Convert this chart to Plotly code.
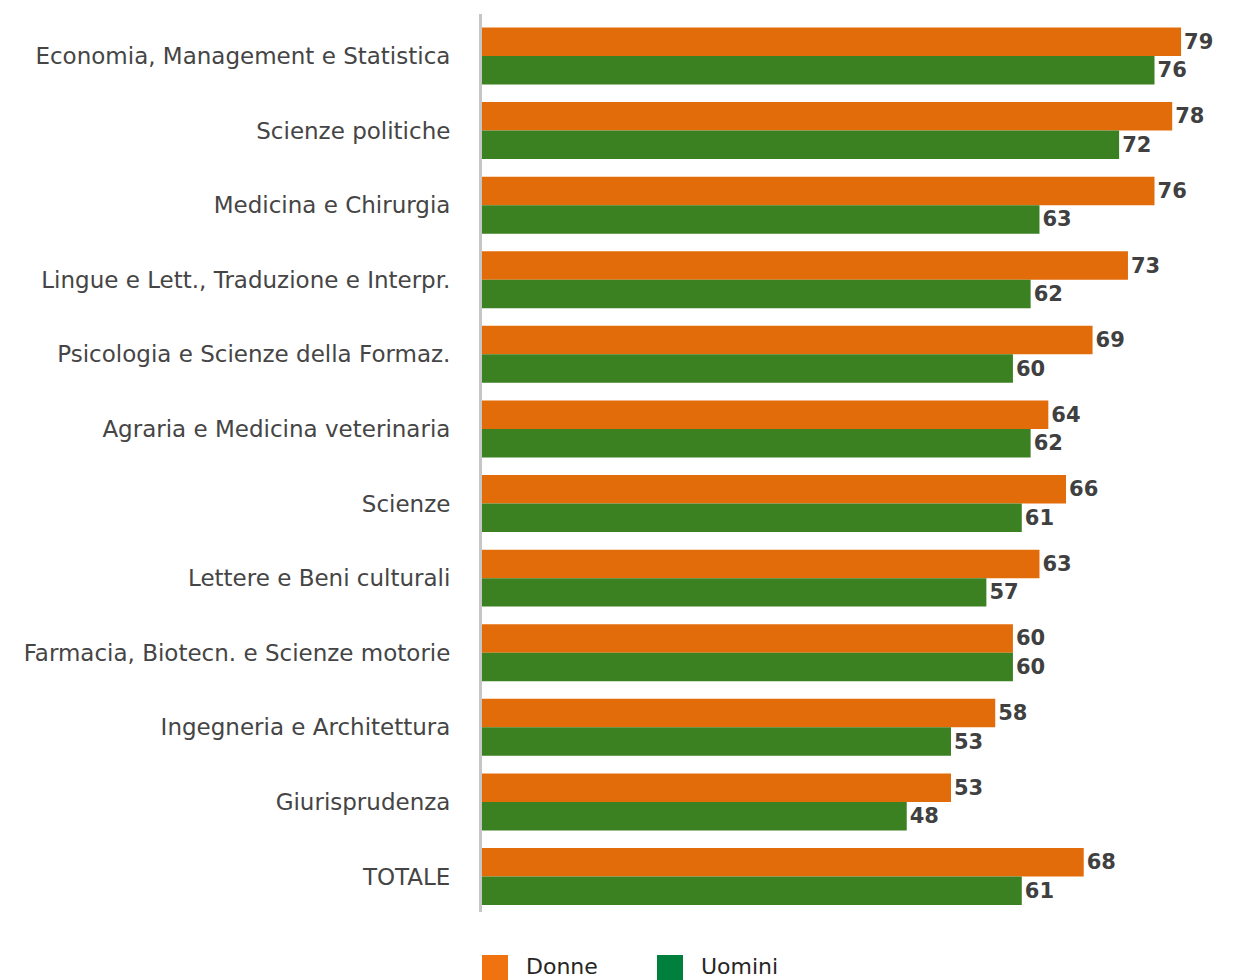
import plotly.graph_objects as go

categories = ["Economia, Management e Statistica", "Scienze politiche", "Medicina e Chirurgia",
              "Lingue e Lett., Traduzione e Interpr.", "Psicologia e Scienze della Formaz.",
              "Agraria e Medicina veterinaria", "Scienze", "Lettere e Beni culturali",
              "Farmacia, Biotecn. e Scienze motorie", "Ingegneria e Architettura",
              "Giurisprudenza", "TOTALE"]
donne = [79, 78, 76, 73, 69, 64, 66, 63, 60, 58, 53, 68]
uomini = [76, 72, 63, 62, 60, 62, 61, 57, 60, 53, 48, 61]
series_names = ["Donne", "Uomini"]
bar_colors = ["#E36C0A", "#3B8122"]
legend_colors = ["#F07310", "#00803C"]

FONT = "DejaVu Sans"
fig = go.Figure()
for name, vals, col in zip(series_names, [donne, uomini], bar_colors):
    fig.add_trace(go.Bar(
        y=categories, x=vals, name=name, orientation="h",
        marker=dict(color=col, line=dict(width=0)),
        text=[str(v) for v in vals], textposition="outside",
        textfont=dict(family=FONT, size=21, color="#404040", weight="bold"),
        cliponaxis=False, showlegend=False,
    ))

W, H = 1235, 972
L, T, B = 474, 6, 68
PW, PH = W - L, H - T - B

fig.update_layout(
    width=W, height=H,
    margin=dict(l=L, r=0, t=T, b=B, autoexpand=False),
    paper_bgcolor="white", plot_bgcolor="white",
    barmode="group", bargap=0.236, bargroupgap=0,
    font=dict(family=FONT, color="#404040"),
    xaxis=dict(range=[0, 86.0], showgrid=False, showticklabels=False, zeroline=False,
               showline=False, fixedrange=True, automargin=False),
    yaxis=dict(range=[11.476, -0.563], showgrid=False, showline=True, linecolor="#C6C6C6",
               linewidth=3, ticks="", ticklabelstandoff=24, automargin=False,
               tickfont=dict(family=FONT, size=23, color="#454545")),
)

# custom legend (pixel offsets relative to plot area bottom-left)
lx = [0.0, 175 / PW]
for i, (name, col) in enumerate(zip(series_names, legend_colors)):
    x0 = lx[i]
    fig.add_shape(type="rect", xref="paper", yref="paper",
                  x0=x0, x1=x0 + 26 / PW, y0=-43 / PH, y1=-68 / PH,
                  fillcolor=col, line=dict(width=0))
    fig.add_annotation(xref="paper", yref="paper", x=x0 + 42 / PW, y=-54 / PH,
                       text=name, showarrow=False, xanchor="left", yanchor="middle",
                       font=dict(family=FONT, size=22, color="#262626"))

fig.write_html("out.html")
